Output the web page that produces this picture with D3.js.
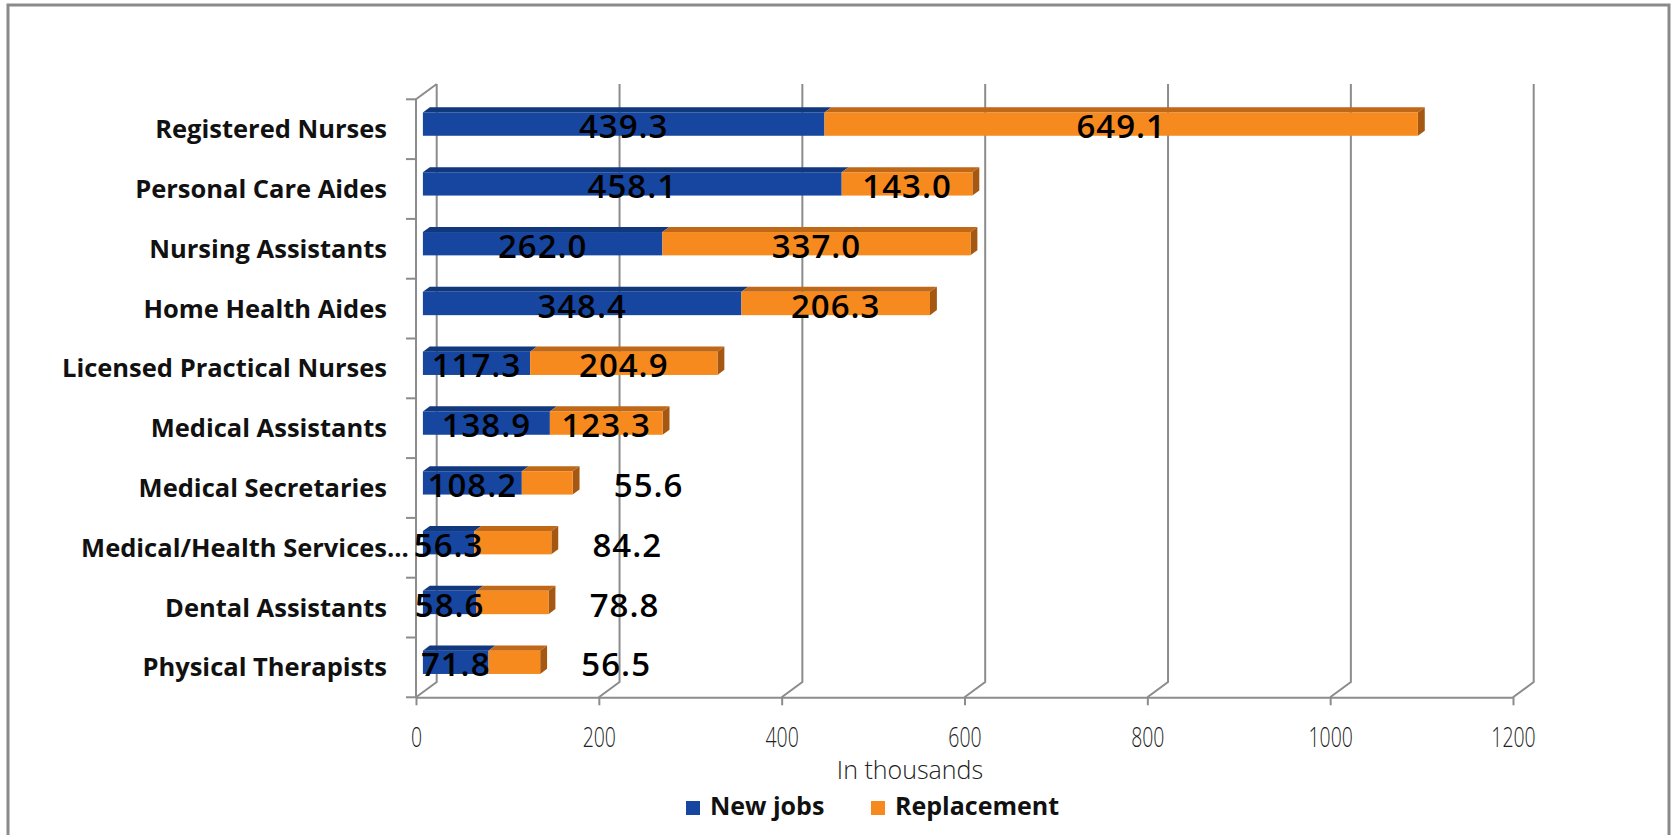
<!DOCTYPE html>
<html>
<head>
<meta charset="utf-8">
<script src="https://cdn.jsdelivr.net/npm/d3@7"></script>
<style>
  body { margin: 0; background: #fff; }
  svg { display: block; }
</style>
</head>
<body>
<svg id="chart" width="1675" height="835"></svg>
<script>
// occupations, top to bottom (the long one is cut off like in the original)
let occupations = ['Registered Nurses', 'Personal Care Aides', 'Nursing Assistants', 'Home Health Aides',
    'Licensed Practical Nurses', 'Medical Assistants', 'Medical Secretaries', 'Medical/Health Services...',
    'Dental Assistants', 'Physical Therapists'];
let newJobs = [439.3, 458.1, 262.0, 348.4, 117.3, 138.9, 108.2, 56.3, 58.6, 71.8];
let replacement = [649.1, 143.0, 337.0, 206.3, 204.9, 123.3, 55.6, 84.2, 78.8, 56.5];
let seriesNames = ['New jobs', 'Replacement'];
let xTicks = [0, 200, 400, 600, 800, 1000, 1200];
let axisTitle = 'In thousands';

let svg = d3.select('#chart');

// front plane of the 3d box, and the offset of the back wall
let front = {left: 416, right: 1513, top: 99.3, bottom: 697.3};
let depth = {dx: 20.7, dy: -15.3};
// bars sit in the middle third of the depth
let bar = {dx: depth.dx / 3, dy: depth.dy / 3};

let colors = {
    'New jobs': {front: '#16469f', top: '#11377d', side: '#0d2b63'},
    'Replacement': {front: '#f68a1f', top: '#bf6817', side: '#a45812'}
};
let gridColor = '#8c8c8c';

let xScale = d3.scaleLinear().domain([0, 1200]).range([front.left, front.right]);
let yScale = d3.scaleBand().domain(occupations)
    .range([front.top, front.bottom])
    .paddingInner(0.61).paddingOuter(0.305);

// outer frame
svg.append('rect')
    .attr('x', 8).attr('y', 5)
    .attr('width', 1661).attr('height', 840)
    .attr('fill', 'none')
    .attr('stroke', '#8a8a8a')
    .attr('stroke-width', 3);

// gridlines: vertical on the back wall plus the diagonal down to the front axis
let grid = svg.append('g').attr('id', 'grid');
grid.selectAll('path')
    .data(xTicks)
    .enter()
    .append('path')
    .attr('d', d => {
        let x = xScale(d);
        return `M${x},${front.bottom} L${x + depth.dx},${front.bottom + depth.dy} L${x + depth.dx},${front.top + depth.dy}`;
    })
    .attr('fill', 'none')
    .attr('stroke', gridColor)
    .attr('stroke-width', 2);

// left wall edge + front category axis
grid.append('path')
    .attr('d', `M${front.left},${front.bottom} L${front.left},${front.top} L${front.left + depth.dx},${front.top + depth.dy}`)
    .attr('fill', 'none')
    .attr('stroke', gridColor)
    .attr('stroke-width', 2);

let boundaries = d3.range(occupations.length + 1).map(i => front.top + i * yScale.step());
grid.selectAll('line.ytick')
    .data(boundaries)
    .enter()
    .append('line')
    .attr('class', 'ytick')
    .attr('x1', front.left - 10).attr('x2', front.left)
    .attr('y1', d => d).attr('y2', d => d)
    .attr('stroke', gridColor)
    .attr('stroke-width', 2);

// value axis at the front
let xAxis = d3.axisBottom(xScale).tickValues(xTicks).tickFormat(d3.format('d'))
    .tickSize(8).tickSizeOuter(0);
let xAxisG = svg.append('g')
    .attr('id', 'xAxis')
    .attr('transform', `translate(0,${front.bottom})`)
    .call(xAxis);
xAxisG.select('.domain').attr('stroke', gridColor).attr('stroke-width', 2);
xAxisG.selectAll('.tick line').attr('stroke', gridColor).attr('stroke-width', 2);
xAxisG.selectAll('.tick text')
    .attr('y', 50).attr('dy', null)
    .attr('transform', 'scale(0.72,1)')
    .style('font-family', '"Open Sans", sans-serif')
    .style('font-weight', 300)
    .style('font-size', '27px')
    .style('fill', '#222');

svg.append('text')
    .attr('x', 910).attr('y', 779)
    .attr('text-anchor', 'middle')
    .style('font-family', '"Open Sans", sans-serif')
    .style('font-weight', 300)
    .style('font-size', '25px')
    .style('fill', '#222')
    .text(axisTitle);

// category labels
let catLabels = svg.append('g').attr('id', 'yLabels');
occupations.forEach(name => {
    let cy = yScale(name) + yScale.bandwidth() / 2;
    let cut = name.endsWith('...');
    catLabels.append('text')
        .attr('x', 387).attr('y', cy + 9)
        .attr('text-anchor', 'end')
        .style('font-family', '"Open Sans", sans-serif')
        .style('font-weight', 700)
        .style('font-size', '25.5px')
        .style('fill', '#111')
        .text(cut ? name.slice(0, -3) : name);
    if (cut) {
        catLabels.append('text')
            .attr('x', 387).attr('y', cy + 9)
            .style('font-family', '"Open Sans", sans-serif')
            .style('font-weight', 700)
            .style('font-size', '25.5px')
            .style('fill', '#111')
            .text('...');
    }
});

// stacked segments
let segments = [];
occupations.forEach((name, i) => {
    let vals = [newJobs[i], replacement[i]];
    let x0 = 0;
    vals.forEach((v, s) => {
        segments.push({name: name, series: seriesNames[s], value: v, x0: x0, x1: x0 + v, last: s === vals.length - 1});
        x0 += v;
    });
});

let bars = svg.append('g').attr('id', 'bars');
let faceX = d => xScale(d.x0) + bar.dx;
let faceW = d => xScale(d.x1) - xScale(d.x0);
let faceY = d => yScale(d.name) + bar.dy;
let bh = yScale.bandwidth();

// top faces
bars.selectAll('path.top')
    .data(segments)
    .enter()
    .append('path')
    .attr('class', 'top')
    .attr('d', d => {
        let x = faceX(d), y = faceY(d), w = faceW(d);
        return `M${x},${y} L${x + w},${y} L${x + w + bar.dx},${y + bar.dy} L${x + bar.dx},${y + bar.dy}Z`;
    })
    .style('fill', d => colors[d.series].top);

// right side of the bar end
bars.selectAll('path.side')
    .data(segments.filter(d => d.last))
    .enter()
    .append('path')
    .attr('class', 'side')
    .attr('d', d => {
        let x = faceX(d) + faceW(d), y = faceY(d);
        return `M${x},${y} L${x + bar.dx},${y + bar.dy} L${x + bar.dx},${y + bar.dy + bh} L${x},${y + bh}Z`;
    })
    .style('fill', d => colors[d.series].side);

// front faces
bars.selectAll('rect')
    .data(segments)
    .enter()
    .append('rect')
    .attr('x', faceX)
    .attr('y', faceY)
    .attr('width', faceW)
    .attr('height', bh)
    .style('fill', d => colors[d.series].front);

// data labels, small replacement values are pushed out past the bar
let fmt = d3.format('.1f');
bars.selectAll('text')
    .data(segments)
    .enter()
    .append('text')
    .attr('x', d => {
        if (d.series === 'Replacement' && d.value < 100) return xScale(d.x1) + bar.dx + 76;
        return faceX(d) + faceW(d) / 2;
    })
    .attr('y', d => faceY(d) + bh / 2 + 14)
    .attr('text-anchor', 'middle')
    .style('font-family', '"Open Sans", sans-serif')
    .style('font-weight', 600)
    .style('font-size', '33px')
    .style('letter-spacing', '1px')
    .style('fill', '#000')
    .text(d => fmt(d.value));

// legend
let legend = svg.append('g').attr('id', 'legend');
let legendX = [686, 871];
seriesNames.forEach((s, i) => {
    legend.append('rect')
        .attr('x', legendX[i]).attr('y', 801)
        .attr('width', 14).attr('height', 14)
        .style('fill', colors[s].front);
    legend.append('text')
        .attr('x', legendX[i] + 24).attr('y', 815)
        .style('font-family', '"Open Sans", sans-serif')
        .style('font-weight', 700)
        .style('font-size', '25px')
        .style('fill', '#111')
        .text(s);
});
</script>
</body>
</html>
